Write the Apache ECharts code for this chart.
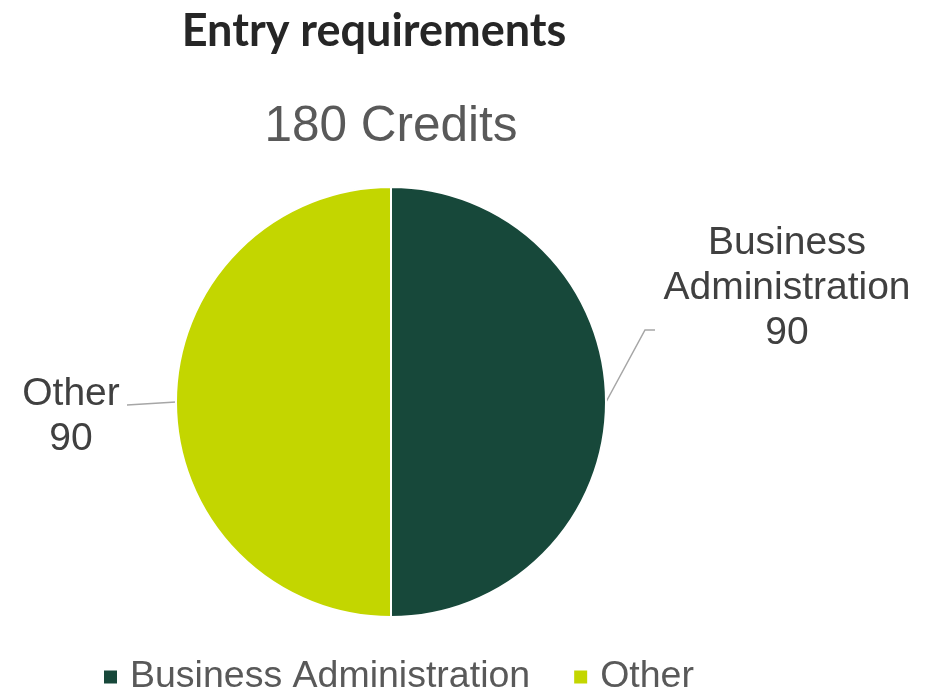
<!DOCTYPE html>
<html>
<head>
<meta charset="utf-8">
<script src="https://cdn.jsdelivr.net/npm/echarts@6/dist/echarts.min.js"></script>
<style>
html,body{margin:0;padding:0;background:#fff;}
#chart{width:940px;height:691px;}
</style>
</head>
<body>
<div id="chart"></div>
<script>
const categories = ['Business Administration', 'Other'];
const values = [90, 90];
const colors = ['#17483A', '#C3D600'];
const titleText = 'Entry requirements';
const subtitleText = '180 Credits';

const chart = echarts.init(document.getElementById('chart'), null, {renderer: 'canvas'});

const labelPlacement = {
  'Business Administration': {x: 787, y: 288, elbow: [645, 330], end: [655, 330]},
  'Other': {x: 71, y: 417, elbow: null, end: [127, 405]}
};

chart.setOption({
  backgroundColor: '#ffffff',
  animation: false,
  title: [
    {
      text: titleText,
      left: 369, top: 4, textAlign: 'center',
      textStyle: {fontFamily: 'Lato', fontWeight: 'bold', fontSize: 45, color: '#262626'}
    },
    {
      text: subtitleText,
      left: 386, top: 97, textAlign: 'center',
      textStyle: {fontFamily: 'Liberation Sans', fontWeight: 'normal', fontSize: 49.5, color: '#595959'}
    }
  ],
  legend: {
    data: categories,
    bottom: -10,
    left: 97,
    icon: 'rect',
    itemWidth: 15,
    itemHeight: 15,
    itemGap: 42,
    textStyle: {fontFamily: 'Liberation Sans', fontSize: 37.5, color: '#595959', padding: [0, 0, 0, 7]}
  },
  series: [{
    type: 'pie',
    center: [391, 402],
    radius: 215,
    startAngle: 90,
    clockwise: true,
    data: categories.map((c, i) => ({name: c, value: values[i], itemStyle: {color: colors[i]}})),
    itemStyle: {borderColor: '#ffffff', borderWidth: 2},
    label: {
      show: true,
      formatter: p => p.name.replace(' ', '\n') + '\n' + p.value,
      fontFamily: 'Liberation Sans',
      fontSize: 39,
      lineHeight: 45,
      color: '#404040',
      align: 'center'
    },
    labelLine: {show: true, length: 30, length2: 10, lineStyle: {color: '#A6A6A6', width: 1.5}},
    labelLayout: function (params) {
      const name = categories[params.dataIndex];
      const pl = labelPlacement[name];
      const p0 = params.labelLinePoints ? params.labelLinePoints[0] : null;
      const pts = [];
      if (p0) pts.push(p0);
      if (pl.elbow) pts.push(pl.elbow);
      pts.push(pl.end);
      if (pts.length === 2) pts.splice(1, 0, [(pts[0][0] + pts[1][0]) / 2, (pts[0][1] + pts[1][1]) / 2]);
      return {x: pl.x, y: pl.y, align: 'center', verticalAlign: 'middle', labelLinePoints: pts};
    },
    emphasis: {disabled: true}
  }]
});
</script>
</body>
</html>
